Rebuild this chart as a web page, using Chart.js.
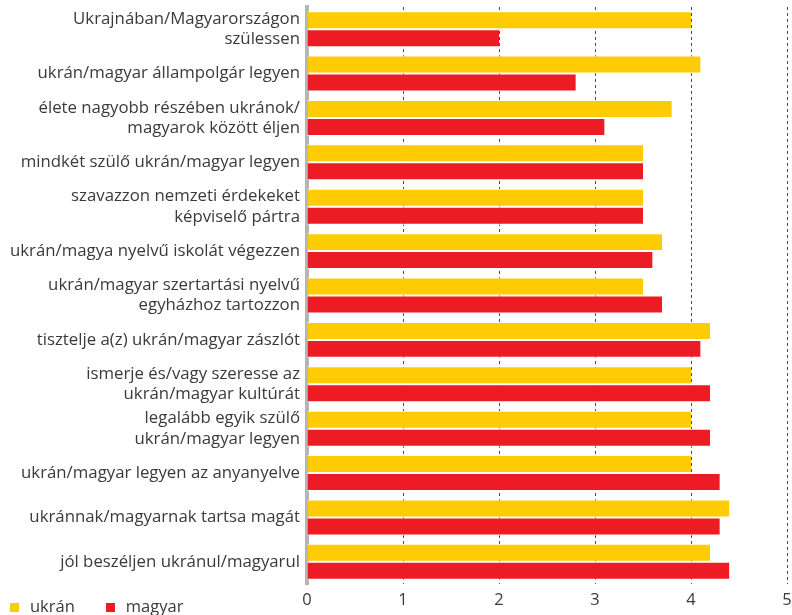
<!DOCTYPE html>
<html>
<head>
<meta charset="utf-8">
<script src="https://cdn.jsdelivr.net/npm/chart.js@4/dist/chart.umd.min.js"></script>
<style>
  html, body { margin: 0; padding: 0; background: #fff; }
  #wrap { position: relative; width: 792px; height: 615px; }
  #legend { position: absolute; left: 10px; top: 594px; font: 400 16.5px "Open Sans", sans-serif; color: #3a3a3a; display: flex; }
  #legend .item { display: flex; align-items: center; margin-right: 31px; }
  #legend .box { width: 9px; height: 9px; margin-right: 11px; margin-top: 3px; }
</style>
</head>
<body>
<div id="wrap">
  <canvas id="c" width="792" height="615"></canvas>
  <div id="legend"></div>
</div>
<script>
const categories = [
  ["Ukrajnában/Magyarországon", "szülessen"],
  "ukrán/magyar állampolgár legyen",
  ["élete nagyobb részében ukránok/", "magyarok között éljen"],
  "mindkét szülő ukrán/magyar legyen",
  ["szavazzon nemzeti érdekeket", "képviselő pártra"],
  "ukrán/magya nyelvű iskolát végezzen",
  ["ukrán/magyar szertartási nyelvű", "egyházhoz tartozzon"],
  "tisztelje a(z) ukrán/magyar zászlót",
  ["ismerje és/vagy szeresse az", "ukrán/magyar kultúrát"],
  ["legalább egyik szülő", "ukrán/magyar legyen"],
  "ukrán/magyar legyen az anyanyelve",
  "ukránnak/magyarnak tartsa magát",
  "jól beszéljen ukránul/magyarul"
];
const seriesNames = ["ukrán", "magyar"];
const ukranValues  = [4.0, 4.1, 3.8, 3.5, 3.5, 3.7, 3.5, 4.2, 4.0, 4.0, 4.0, 4.4, 4.2];
const magyarValues = [2.0, 2.8, 3.1, 3.5, 3.5, 3.6, 3.7, 4.1, 4.2, 4.2, 4.3, 4.3, 4.4];
const xTicks = [0, 1, 2, 3, 4, 5];
const colors = ["#FFCB05", "#ED1C24"];

const barStyle = {
  borderColor: "#ffffff",
  borderWidth: { top: 1, bottom: 1, left: 0, right: 0 },
  borderSkipped: false,
  categoryPercentage: 0.81,
  barPercentage: 1.0
};

const chart = new Chart(document.getElementById("c"), {
  type: "bar",
  data: {
    labels: categories,
    datasets: [
      Object.assign({ label: seriesNames[0], data: ukranValues, backgroundColor: colors[0] }, barStyle),
      Object.assign({ label: seriesNames[1], data: magyarValues, backgroundColor: colors[1] }, barStyle)
    ]
  },
  options: {
    indexAxis: "y",
    responsive: false,
    animation: false,
    layout: { padding: { top: 7, right: 5, left: 0, bottom: 0 } },
    plugins: { legend: { display: false }, tooltip: { enabled: false } },
    scales: {
      x: {
        min: 0, max: 5,
        afterBuildTicks: (s) => { s.ticks = xTicks.map(v => ({ value: v })); },
        afterFit: (s) => { s.height = 31; s.paddingLeft = 0; s.paddingRight = 0; },
        grid: {
          drawTicks: false,
          color: (ctx) => (ctx.tick && ctx.tick.value === 0) ? "rgba(0,0,0,0)" : "#4a4a4a",
          lineWidth: 1
        },
        border: { display: false, dash: [3, 3] },
        ticks: { color: "#3a3a3a", padding: 6, font: { family: "Open Sans", size: 16.5, weight: 400 } }
      },
      y: {
        afterFit: (s) => { s.width = 307; s.paddingTop = 0; s.paddingBottom = 0; },
        grid: { display: false, drawTicks: false },
        border: { display: true, color: "#b5b5b5", width: 4 },
        ticks: { color: "#3a3a3a", padding: 7, font: { family: "Open Sans", size: 16.8, weight: 400, lineHeight: 1.2 } }
      }
    }
  }
});

const leg = document.getElementById("legend");
chart.data.datasets.forEach(ds => {
  const it = document.createElement("div"); it.className = "item";
  const b = document.createElement("span"); b.className = "box"; b.style.background = ds.backgroundColor;
  const t = document.createElement("span"); t.textContent = ds.label;
  it.appendChild(b); it.appendChild(t); leg.appendChild(it);
});
</script>
</body>
</html>
